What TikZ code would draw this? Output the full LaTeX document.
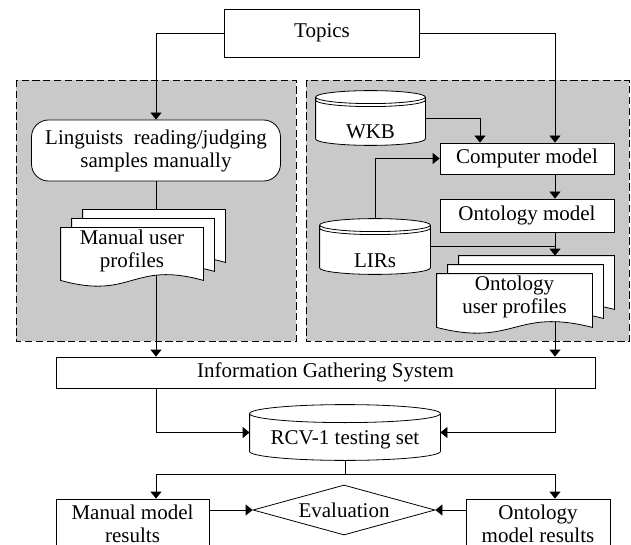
\documentclass[tikz,border=0pt]{standalone}
\usepackage{fontspec}
\setmainfont{Liberation Serif}
\usetikzlibrary{calc,arrows.meta,shapes.geometric}

\pgfdeclarelayer{panel}
\pgfdeclarelayer{wire}
\pgfdeclarelayer{body}
\pgfsetlayers{panel,wire,body,main}

\tikzset{
  box/.style={draw, fill=white, align=center, inner sep=1pt},
  drum/.style={align=center, inner sep=0pt, text depth=0pt, text height=#1},
  docpage/.style={align=center, inner sep=0pt},
  panelbox/.style={draw, dash pattern=on 3.6pt off 1.8pt, fill=black!21},
}

% cylinder drawn behind a node: #1 node, #2 lid radius, #3 gap of the rim line
\newcommand\drumoutline[3]{%
  \begin{pgfonlayer}{body}
  \draw[fill=white] let \p1=(#1.north west), \p2=(#1.south east), \n1={(\x2-\x1)/2} in
    (\x1,\y1-#2) -- (\x1,\y2+#2) arc[start angle=180, end angle=360, x radius=\n1, y radius=#2]
    -- (\x2,\y1-#2) arc[start angle=0, end angle=180, x radius=\n1, y radius=#2] -- cycle
    (\x1,\y1-#2) arc[start angle=180, end angle=360, x radius=\n1, y radius=#2]
    (\x1,\y1-#2-#3) arc[start angle=180, end angle=360, x radius=\n1, y radius=#2];
  \end{pgfonlayer}}

% three stacked sheets with a wavy bottom behind a node
\newcommand\pagestack[1]{%
  \begin{pgfonlayer}{body}
  \foreach \dx/\dy in {22/18,11/9,0/0}{
    \draw[fill=white] let \p1=($(#1.north west)+(\dx,-\dy)$), \p2=($(#1.south east)+(\dx,-\dy)$) in
      (\x1,\y1) -- (\x2,\y1) -- (\x2,\y2-3.5pt)
      .. controls ({(\x1+\x2)/2},\y2+6.5pt) and ({(\x1+\x2)/2},\y2-13.5pt) .. (\x1,\y2-3.5pt) -- cycle;
  }
  \end{pgfonlayer}}

\begin{document}
\begin{tikzpicture}[x=0.5pt, y=-0.5pt, line width=0.6pt, >={Triangle[width=5.5pt,length=3.5pt]},
  font=\fontsize{10.5}{11.5}\selectfont]
\useasboundingbox (0,0) rectangle (631,545);

% grey work areas
\begin{pgfonlayer}{panel}
  \draw[panelbox] (16,80) rectangle (296,341);
  \draw[panelbox] (306,80) rectangle (629,341);
\end{pgfonlayer}

\coordinate (rcol) at (555,0);

\node[box, minimum width=97.5pt, minimum height=24pt] (topics) at (322,33) {Topics};
\node[box, rounded corners=8.5pt, minimum width=124.5pt, minimum height=30.5pt] (ling) at (156,150.5)
  {Linguists\ \ reading/judging\\samples manually};
\node[docpage, minimum width=71pt, minimum height=22.5pt] (mup) at (132,250.5) {Manual user\\profiles};

\node[drum=21pt, minimum width=54.5pt, minimum height=27pt] (wkb) at (370.5,118) {WKB};
\node[box, minimum width=87pt, minimum height=15.5pt] (cm) at (527,158.5) {Computer model};
\node[box, minimum width=87pt, minimum height=16.5pt] (om) at (527,215.5) {Ontology model};
\node[drum=21pt, minimum width=55pt, minimum height=27.5pt] (lirs) at (375,246.5) {LIRs};
\node[docpage, minimum width=77.5pt, minimum height=23pt] (oup) at (514.5,297) {Ontology\\user profiles};

\node[box, minimum width=269.5pt, minimum height=15.5pt] (igs) at (325.5,372.5) {Information Gathering System};
\node[drum=11.5pt, minimum width=95pt, minimum height=27.5pt] (rcv) at (345,432.5) {RCV-1 testing set};
\coordinate (split) at ($(rcv.south)+(0,14)$);

\node[box, minimum width=76.5pt, minimum height=24.5pt] (mres) at (132.5,523.5) {Manual model\\results};
\node[draw, fill=white, diamond, aspect=3.6, minimum width=91pt, minimum height=25pt, inner sep=0pt] (eval) at (344,510) {Evaluation};
\node[box, minimum width=72pt, minimum height=24.5pt] (ores) at (538,523.5) {Ontology\\model results};

\drumoutline{wkb}{3.25pt}{1.5pt}
\drumoutline{lirs}{3.25pt}{1.5pt}
\drumoutline{rcv}{4.5pt}{0pt}
\pagestack{mup}
\pagestack{oup}

\begin{pgfonlayer}{wire}
  \draw[->] (topics.west) -| (ling.north);
  \draw[->] (topics.east) -| (cm.north -| rcol);
  \draw[->] (ling.south) -- ($(mup.north -| ling)+(0,-9)$);
  \draw[->] (mup.south -| ling) -- (igs.north -| ling);
  \draw[->] (wkb.east) -| ($(cm.north)+(-47,0)$);
  \draw[->] (lirs.north) |- (cm.west);
  \draw[->] (cm.south -| rcol) -- (om.north -| rcol);
  \draw[->] (om.south -| rcol) -- ($(oup.north -| rcol)+(0,-18)$);
  \draw (lirs.east) -- (lirs.east -| rcol);
  \draw[->] (oup.south -| rcol) -- (igs.north -| rcol);
  \draw[->] (igs.south -| ling) |- (rcv.west);
  \draw[->] (igs.south -| rcol) |- (rcv.east);
  \draw (rcv.south) -- (split);
  \draw[->] (split) -| (mres.north -| ling);
  \draw[->] (split) -| (ores.north -| rcol);
  \draw[->] (eval.west -| mres.east) -- (eval.west);
  \draw[->] (eval.east -| ores.west) -- (eval.east);
\end{pgfonlayer}
\end{tikzpicture}
\end{document}
